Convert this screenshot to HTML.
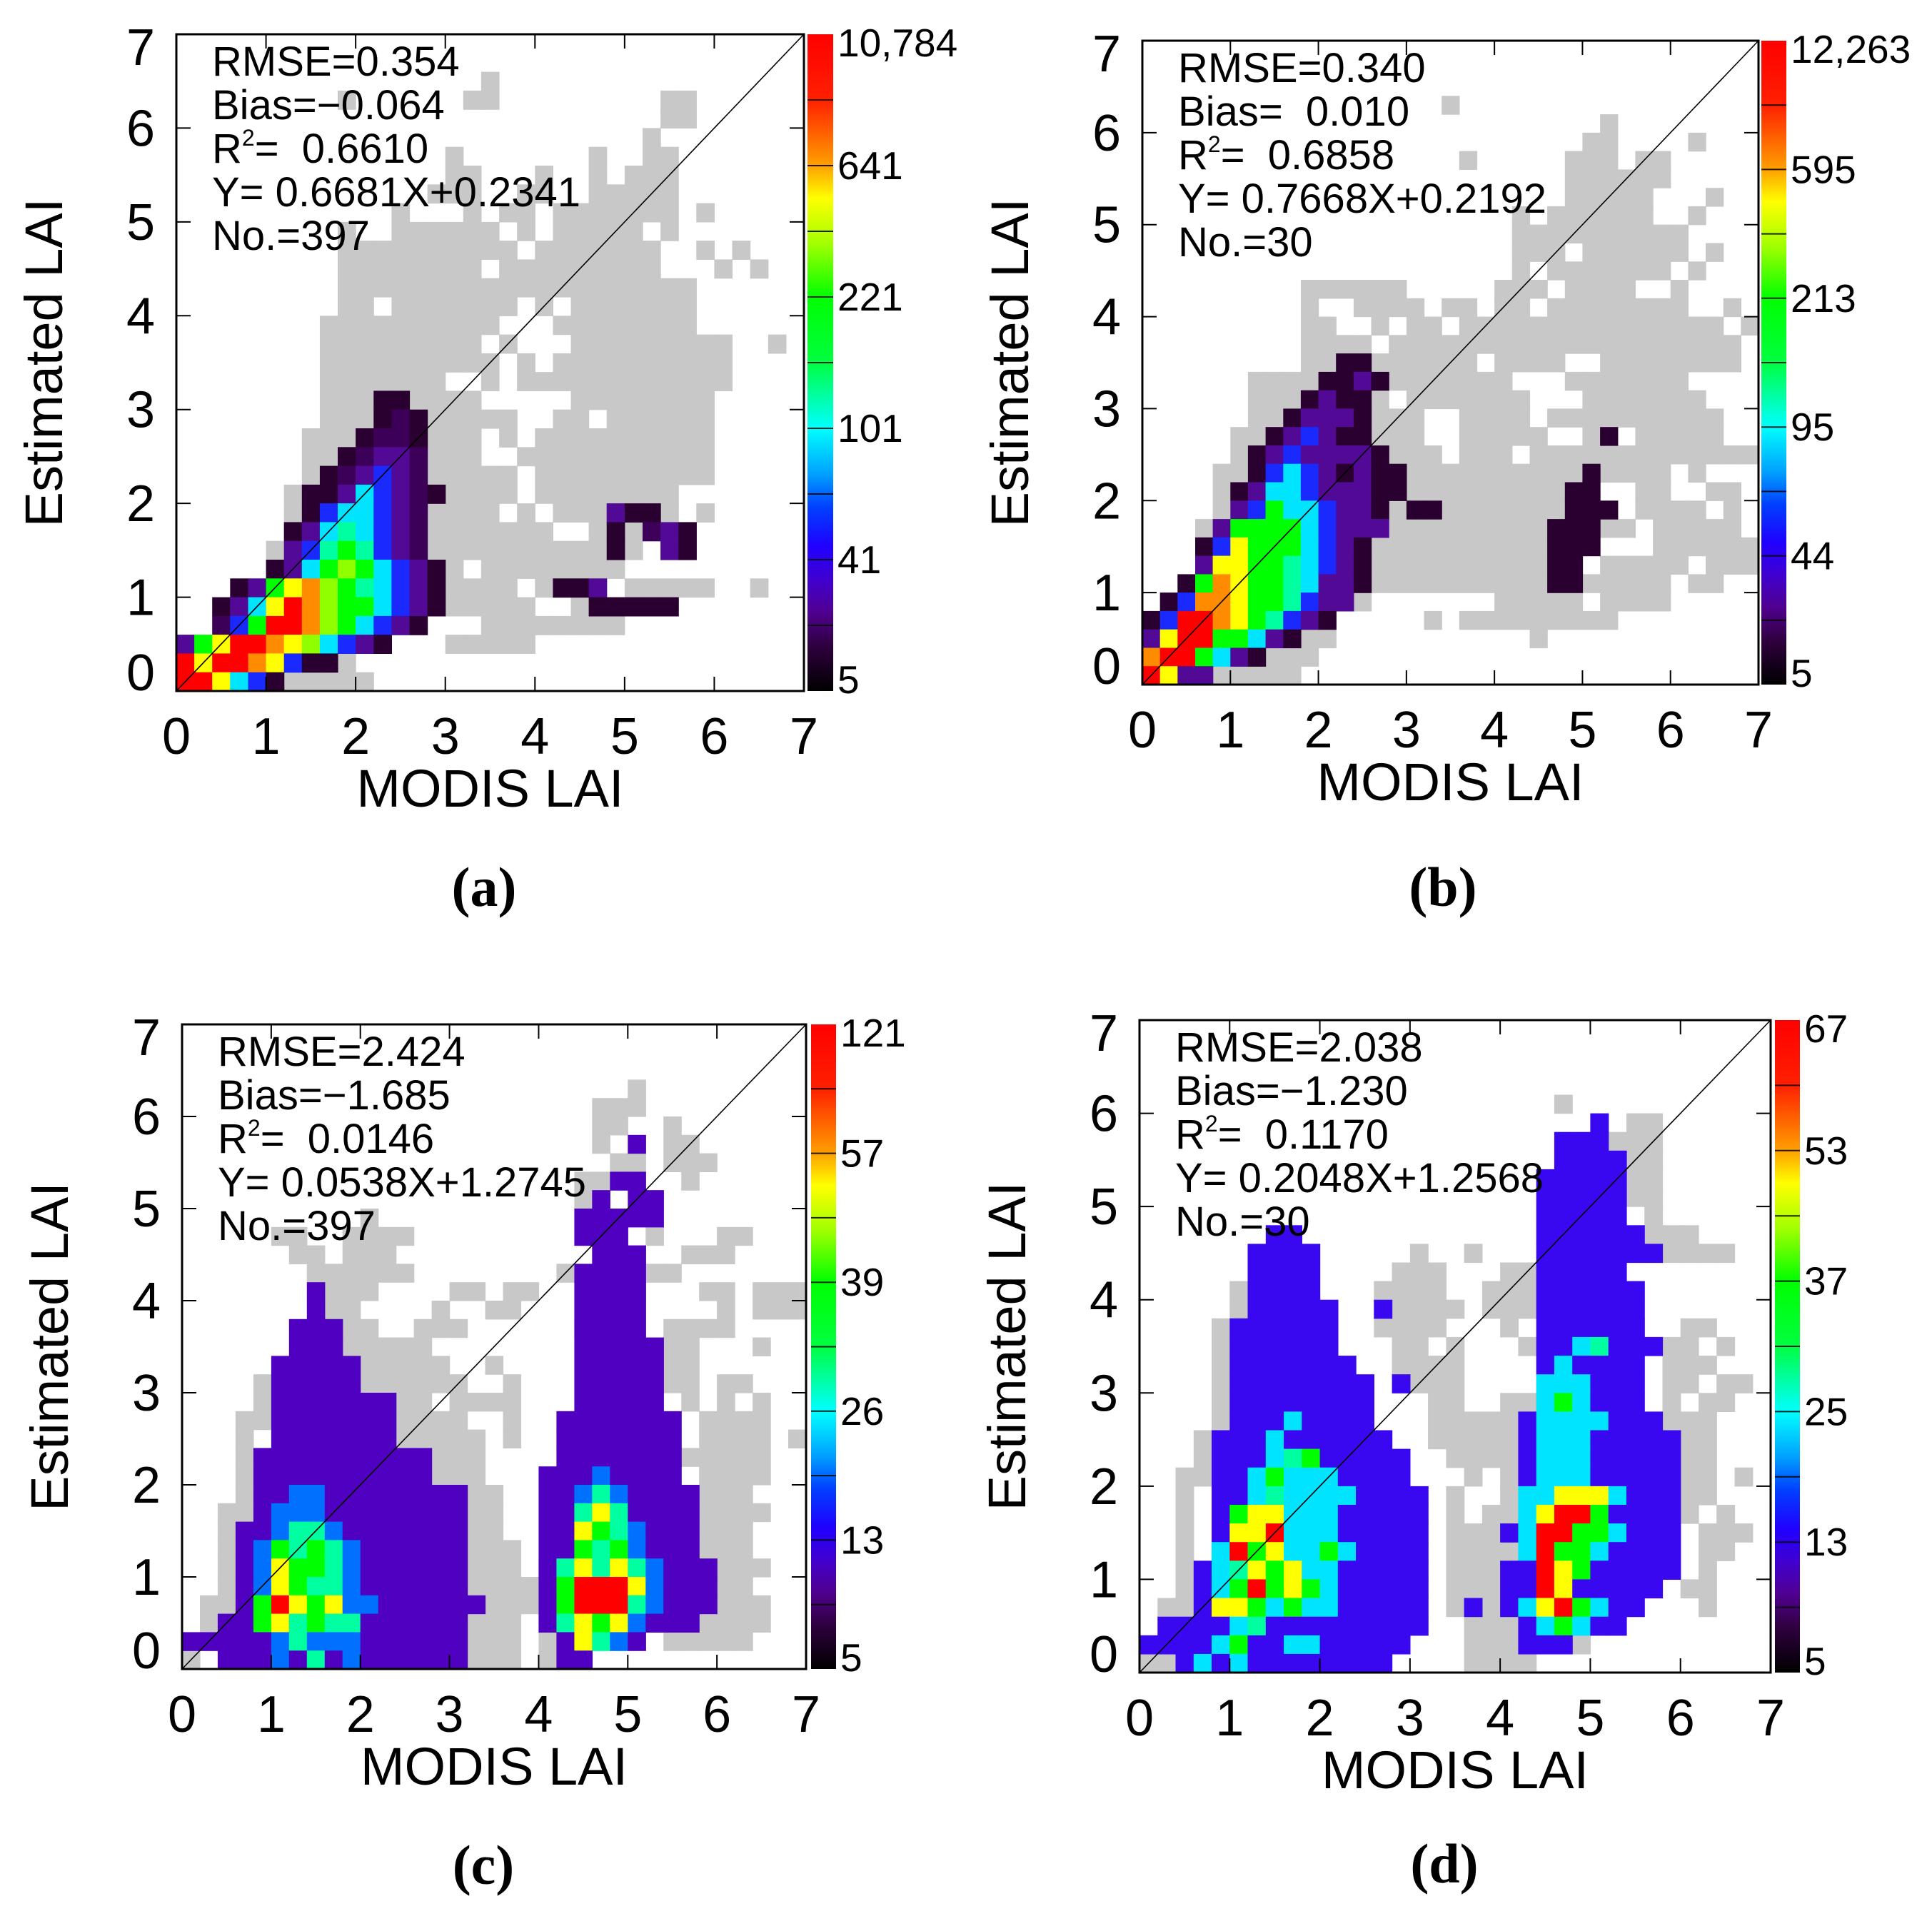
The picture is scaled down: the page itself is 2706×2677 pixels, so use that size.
<!DOCTYPE html>
<html><head><meta charset="utf-8">
<style>
html,body{margin:0;padding:0;background:#fff;}
svg{display:block;}
text{font-family:"Liberation Sans",sans-serif;fill:#000;}
.cap{font-family:"Liberation Serif",serif;font-weight:bold;}
</style></head>
<body>
<svg id="fig" width="2706" height="2677" viewBox="0 0 2706 2677" xmlns="http://www.w3.org/2000/svg">
<defs>
<linearGradient id="cbg" x1="0" y1="0" x2="0" y2="1">
<stop offset="0" stop-color="#ff0000"/><stop offset="0.1" stop-color="#ff2000"/>
<stop offset="0.15" stop-color="#ff6000"/><stop offset="0.2" stop-color="#ffa000"/>
<stop offset="0.25" stop-color="#ffff00"/><stop offset="0.32" stop-color="#a0ff00"/>
<stop offset="0.4" stop-color="#00ff00"/><stop offset="0.5" stop-color="#00ff40"/>
<stop offset="0.55" stop-color="#00ffa0"/><stop offset="0.6" stop-color="#00ffff"/>
<stop offset="0.67" stop-color="#00a0ff"/><stop offset="0.72" stop-color="#0040ff"/>
<stop offset="0.78" stop-color="#2000ff"/><stop offset="0.83" stop-color="#4000d0"/>
<stop offset="0.88" stop-color="#500090"/><stop offset="0.93" stop-color="#300040"/>
<stop offset="1" stop-color="#000000"/>
</linearGradient>
</defs>
</svg>
<script>
// ---- data: density-grid rows (last row = LAI 0-0.2), 0.2-LAI bins ----
const xTicks = [0,1,2,3,4,5,6,7];
const yTicks = [0,1,2,3,4,5,6,7];
const cbLabelsA = ["10,784","641","221","101","41","5"];
const cbLabelsB = ["12,263","595","213","95","44","5"];
const cbLabelsC = ["121","57","39","26","13","5"];
const cbLabelsD = ["67","53","37","25","13","5"];
const statsA = ["RMSE=0.354","Bias=\u22120.064","0.6610","Y= 0.6681X+0.2341","No.=397"];
const statsB = ["RMSE=0.340","Bias=  0.010","0.6858","Y= 0.7668X+0.2192","No.=30"];
const statsC = ["RMSE=2.424","Bias=\u22121.685","0.0146","Y= 0.0538X+1.2745","No.=397"];
const statsD = ["RMSE=2.038","Bias=\u22121.230","0.1170","Y= 0.2048X+1.2568","No.=30"];
const grayA = [
"","",".................#",".........#......##.........##","...........................##","..........................#",
"...............#.......#..##","...............##...#..#.###","..............###..##..#####","............#...#.##.#######.#",
".........#..######.#.#####.#",".........##########.#######..#.#",".........########.#########...#.#",".........####################",
".........##.#######.#.#######","........##########...########","........#########.#...#########..#.#","........##########.#.##########",
"........#######..#.############","........#########.....########","........###########..##.######",".......##########.#.##########",
".......##########..###########",".......############.##########","......#############.########","......############.#.#######.#",
"......###############..#####",".....#####################",".....###########.########","....###############.####.#####..#",
"....################..####","...###########...########","..#########....#####....","..########",".....######"];
const colA = [
"","","","","","","","","","","","","","","","","","",
"","","...........kk","...........kpk","..........kppk",".........kpvvp","........kpvBvp",".......kkvcBvpk",
".......kBccBvp"+".........."+"vkk","......kvctcBvp"+".........."+"k.pvk","......vBtgtBvp"+".........."+"k..vk",
".....kvcglgcBvk",
"...kvgyolgtcBvk"+"......"+"kkv","..kvcyrolggcBvk"+"........"+"kkkkk","..pBgrrolgcBvk","vgyrroylcBvk","ryrroyBkk","rrycBk"];
const grayB = [
"","","",".................#","..........................#",".........................##....#",
"..................#.....###.##","........................######","........................#####...#",".....................#.######..#",
".....................##########",".....................###.######.#",".....................#.#######.#",".........######.....###.####..#",
".........#..####.##.##.########..#",".........##..#.##.###############.#",".........####.####################",".........##########.####..########",
"......###############...#######","......########.#######...#######","......##########..####.##########",".....###########..#####..##.#####",
".....############.###.#############","....##########################.#","....#####################...##..##","....#######################.####.#.#",
"...#########################.#####","...######################....######","...######################.#####.####","..############################.##",
".############.......#####.####",".##########.....#.#########","###########...........#","##########","#########"];
const colB = [
"","","","","","","","","","","","","","","","","",
"...........kk","..........kkvk",".........kvkk","........kvvvk",".......kvBvkk.............k","......kvBvvvvk",
"......kBcBvkvkk..........k",".....kvccBvvvkk.........kk",".....vBgccBvvk.kk.......kkk","....vggggcBvvv.........kkk",
"...kBygggcBvk..........kkk","...vyyggtcBvk..........kk","..kgoyggtcvvk..........kk",".kBooyggtBvv","kBrroygtBvk","vyrrggcvk","orrgcvk","ryvv"];
const grayC = [
"","","","...................................",".........................#",".......................###",".......................##..#",
".......................#...##","........................##.###","......................##....#","......................#...#",
"..........#............#",".....##..####.............#...##","......##.###.............#..###",".......######........#....##",
"........###....##.##.....#...##.###","........##....#..##.....#.....#.###",".........##..###......#....####",".........#####............###...#",
".........######..#........###","....#....#######..#........##.##","....#......###.####.........#.#.#","...##......#####..#..........####",
"...#......#######.#..........####.#","...#.........####...........#####","...#........#####............####","...#........######..........####",
"..##........######..........#####","..#..........#####..........####","..#..........######.........####","..#..........######.#........####",
"..#...........######.........###",".##..........#######.........####",".##..........######.##......#####","##...........######.###....#####","#............######.#"];
const colC = [
"","","","","","",".........................w","","........................ww","......................."+"w.ww",
"......................wwwww","......................www",".......................www","......................wwww",
".......w..............wwww",".......w..............wwww","......www.............wwww","......www.............wwwww",
".....wwwww............wwwww",".....wwwww............wwwww",".....wwwwwww..........wwwww",".....wwwwwww.........wwwwwww",
".....wwwwwww.........wwwwwww","....wwwwwwwwww.......wwwwwww","....wwwwwwwwww......wwwbwwww","....wwbbwwwwwwww....wwbtbwwww",
"....wbbbwwwwwwww....wwtytwwww","...wwbttbwwwwwww....wwygtbwww","...wbgtgtbwwwwww....wwgtgbwww","...wbyggtbwwwwww....wtytytbwww",
"...wbygttbwwwwww....wgrrrybwww","...wgrygybbwwwwww...wgrrrtbwww","..wwgytgttwwwwww....wtygybwww","wwwwwbtbbbwwwwww.....wytbw","..wwwbwtwbwwwwww.....ww"];
const grayD = [
"","","","",".......................#",".........................#.##",
"..........................###","...........................##","...........................##","...........................##",
"............................#","............................###","...............#..#.........#####","......##......###...###",
".....##......####..####",".....#.......#####.#####","....#........####...#......#..##","....#.........##.#...#......###.#",
"....#.........####....##.....###","....#..........###....#......##.##","....#...........##..##.......#.##","....#...........######.......###",
"...##...........######......####","...#.............#####.......###","..##..............#.##.#......##.#","..#..............#..####......##",
"..#..............#.#####......#.#","..#..............###.##........###","..#..............######........##","..#..............######........#",
"..#..............#####.#......##",".##..............#####.##......#",".##...............####..#","###...............###..##","##................####"];
const colD = [
"","","","","","",".........................u","......................."+"uuu","......................."+"uuuu","......................"+"uuuuu",
"......................"+"uuuuu","......................"+"uuuuu",".......uu............."+"uuuuuu","......uuuu............"+"uuuuuuu",
"......uuuu............"+"uuuuu","......uuuu............"+"uuuuuu","......uuuuu..u........"+"uuuuuu",".....uuuuuu..........."+"uuuuuu",
".....uuuuuu..........."+"uuctuuu",".....uuuuuuu.........."+"ucuuuu",".....uuuuuuuu.u......."+"cccuuu",".....uuuuuuuu........."+"cgcuuu",
".....uuucuuuu........"+"uccccuuu","....uuucuuuuuu......."+"ucccuuuuu","....uuuctguuuuu......"+"ucccuuuuu","....uucgcccuuuu......"+"ucccuuuuu",
"....uuctccccuuuu....."+"ccyyycuuu","....ugyycccuuuuu....."+"cyrrguuuu","....uyyrcccuuuuu...."+"ucrrggcuuu","....crgyccgcuuuu....."+"crggcuuuu",
"...uctygyccuuuuu...."+"uuryguuuuu","...ucgrgygcuuuuu...."+"uuryuuuuu","...uyygcgccuuuuu..u."+"ucyrgcuu",".uuuuctuuuuuuuuu....."+"ucgcuu",
"uuuucguuccuuuuu......"+"uuu","..ucucuuuuuuuu"];
// ---- palette ----
const PAL = {k:'#2a0030',p:'#3c0058',v:'#520a96',B:'#1a2aff',c:'#00e4ff',t:'#00ffa0',g:'#00ff00',l:'#90ff00',y:'#ffff00',o:'#ff8c00',r:'#ff0000',w:'#5000c0',b:'#0070ff',u:'#3a08f0','#':'#c8c8c8'};
const NS='http://www.w3.org/2000/svg';
const svg=document.getElementById('fig');
function mk(tag,attrs,parent){const e=document.createElementNS(NS,tag);for(const k in attrs)e.setAttribute(k,attrs[k]);(parent||svg).appendChild(e);return e;}

const panels=[
 {id:'a',L:247,T:48,R:1126,B:968,cbL:1131,cbR:1167,labels:cbLabelsA,stats:statsA,gray:grayA,col:colA,cap:[678,1243]},
 {id:'b',L:1600,T:57,R:2463,B:959,cbL:2467,cbR:2502,labels:cbLabelsB,stats:statsB,gray:grayB,col:colB,cap:[2021,1243]},
 {id:'c',L:255,T:1435,R:1129,B:2338,cbL:1136,cbR:1171,labels:cbLabelsC,stats:statsC,gray:grayC,col:colC,cap:[677,2613]},
 {id:'d',L:1596,T:1429,R:2480,B:2343,cbL:2486,cbR:2521,labels:cbLabelsD,stats:statsD,gray:grayD,col:colD,cap:[2023,2611]}
];

panels.forEach(P=>{
 const g=mk('g',{});
 
 
 const sx=v=>P.L+(P.R-P.L)*v/7;
 const sy=v=>P.B-(P.B-P.T)*v/7;
 const cw=(P.R-P.L)/35, ch=(P.B-P.T)/35;
 const heat=mk('g',{},g);
 
 
 [P.gray,P.col].forEach(rows=>{
  rows.forEach((row,ri)=>{
   const j=rows.length-1-ri;
   if(j>34)return;
   for(let c=0;c<Math.min(row.length,35);c++){
    const ch0=row[c];
    if(ch0==='.'||!PAL[ch0])continue;
    const x0=sx(c*0.2), y1=sy(j*0.2+0.2);
    const r=mk('rect',{x:x0.toFixed(1),y:y1.toFixed(1),width:(cw+0.6).toFixed(1),height:(ch+0.6).toFixed(1),fill:PAL[ch0]},heat);
    
    
   }
  });
 });
 const dl=mk('line',{x1:sx(0),y1:sy(0),x2:sx(7),y2:sy(7),stroke:'#000','stroke-width':1.6},g);
 
 
 const fr=mk('rect',{x:P.L,y:P.T,width:P.R-P.L,height:P.B-P.T,fill:'none',stroke:'#000','stroke-width':3},g);
 
 
 xTicks.forEach(v=>{
  const x=sx(v);
  mk('line',{x1:x,y1:P.B,x2:x,y2:P.B-20,stroke:'#000','stroke-width':2},g);
  mk('line',{x1:x,y1:P.T,x2:x,y2:P.T+20,stroke:'#000','stroke-width':2},g);
  const t=mk('text',{x:x,y:P.B+88,'font-size':72,'text-anchor':'middle'},g);
  t.textContent=v;
  
  
 });
 yTicks.forEach(v=>{
  const y=sy(v);
  mk('line',{x1:P.L,y1:y,x2:P.L+20,y2:y,stroke:'#000','stroke-width':2},g);
  mk('line',{x1:P.R,y1:y,x2:P.R-20,y2:y,stroke:'#000','stroke-width':2},g);
  const yy=Math.min(Math.max(y,P.T+18),P.B-26);
  const t=mk('text',{x:P.L-30,y:yy+25,'font-size':72,'text-anchor':'end'},g);
  t.textContent=v;
  
  
 });
 const xt=mk('text',{x:(P.L+P.R)/2,y:P.B+162,'font-size':74,'text-anchor':'middle'},g);
 xt.textContent='MODIS LAI';
 
 
 const cy=(P.T+P.B)/2, cx=P.L-160;
 const yt=mk('text',{x:cx,y:cy,'font-size':74,'text-anchor':'middle',transform:`rotate(-90 ${cx} ${cy})`},g);
 yt.textContent='Estimated LAI';
 
 
 const st=mk('g',{},g);
 
 
 P.stats.forEach((s,i)=>{
  const t=mk('text',{x:P.L+50,y:P.T+58+i*61,'font-size':58,'xml:space':'preserve'},st);
  t.style.whiteSpace='pre';
  if(i===2){
   const a=mk('tspan',{},t);a.textContent='R';
   const b=mk('tspan',{dy:-24,'font-size':32},t);b.textContent='2';
   const c=mk('tspan',{dy:24},t);c.textContent='=  '+s;
  } else t.textContent=s;
 });
 const cb=mk('g',{},g);
 
 
 mk('rect',{x:P.cbL,y:P.T,width:P.cbR-P.cbL,height:P.B-P.T,fill:'url(#cbg)'},cb);
 for(let i=1;i<10;i++){
  const y=P.T+(P.B-P.T)*i/10;
  mk('line',{x1:P.cbL,y1:y,x2:P.cbR,y2:y,stroke:'#000','stroke-width':2,opacity:0.85},cb);
 }
 P.labels.forEach((lab,i)=>{
  const y=P.T+(P.B-P.T)*i/5;
  const yy=Math.min(Math.max(y,P.T+12),P.B-16);
  const t=mk('text',{x:P.cbR+6,y:yy+19,'font-size':55},cb);
  t.textContent=lab;
  
  
 });
 const cp=mk('text',{x:P.cap[0],y:P.cap[1]+26,'font-size':78,'text-anchor':'middle',class:'cap'},g);
 cp.textContent='('+P.id+')';
 
 
});
</script>
</body></html>
